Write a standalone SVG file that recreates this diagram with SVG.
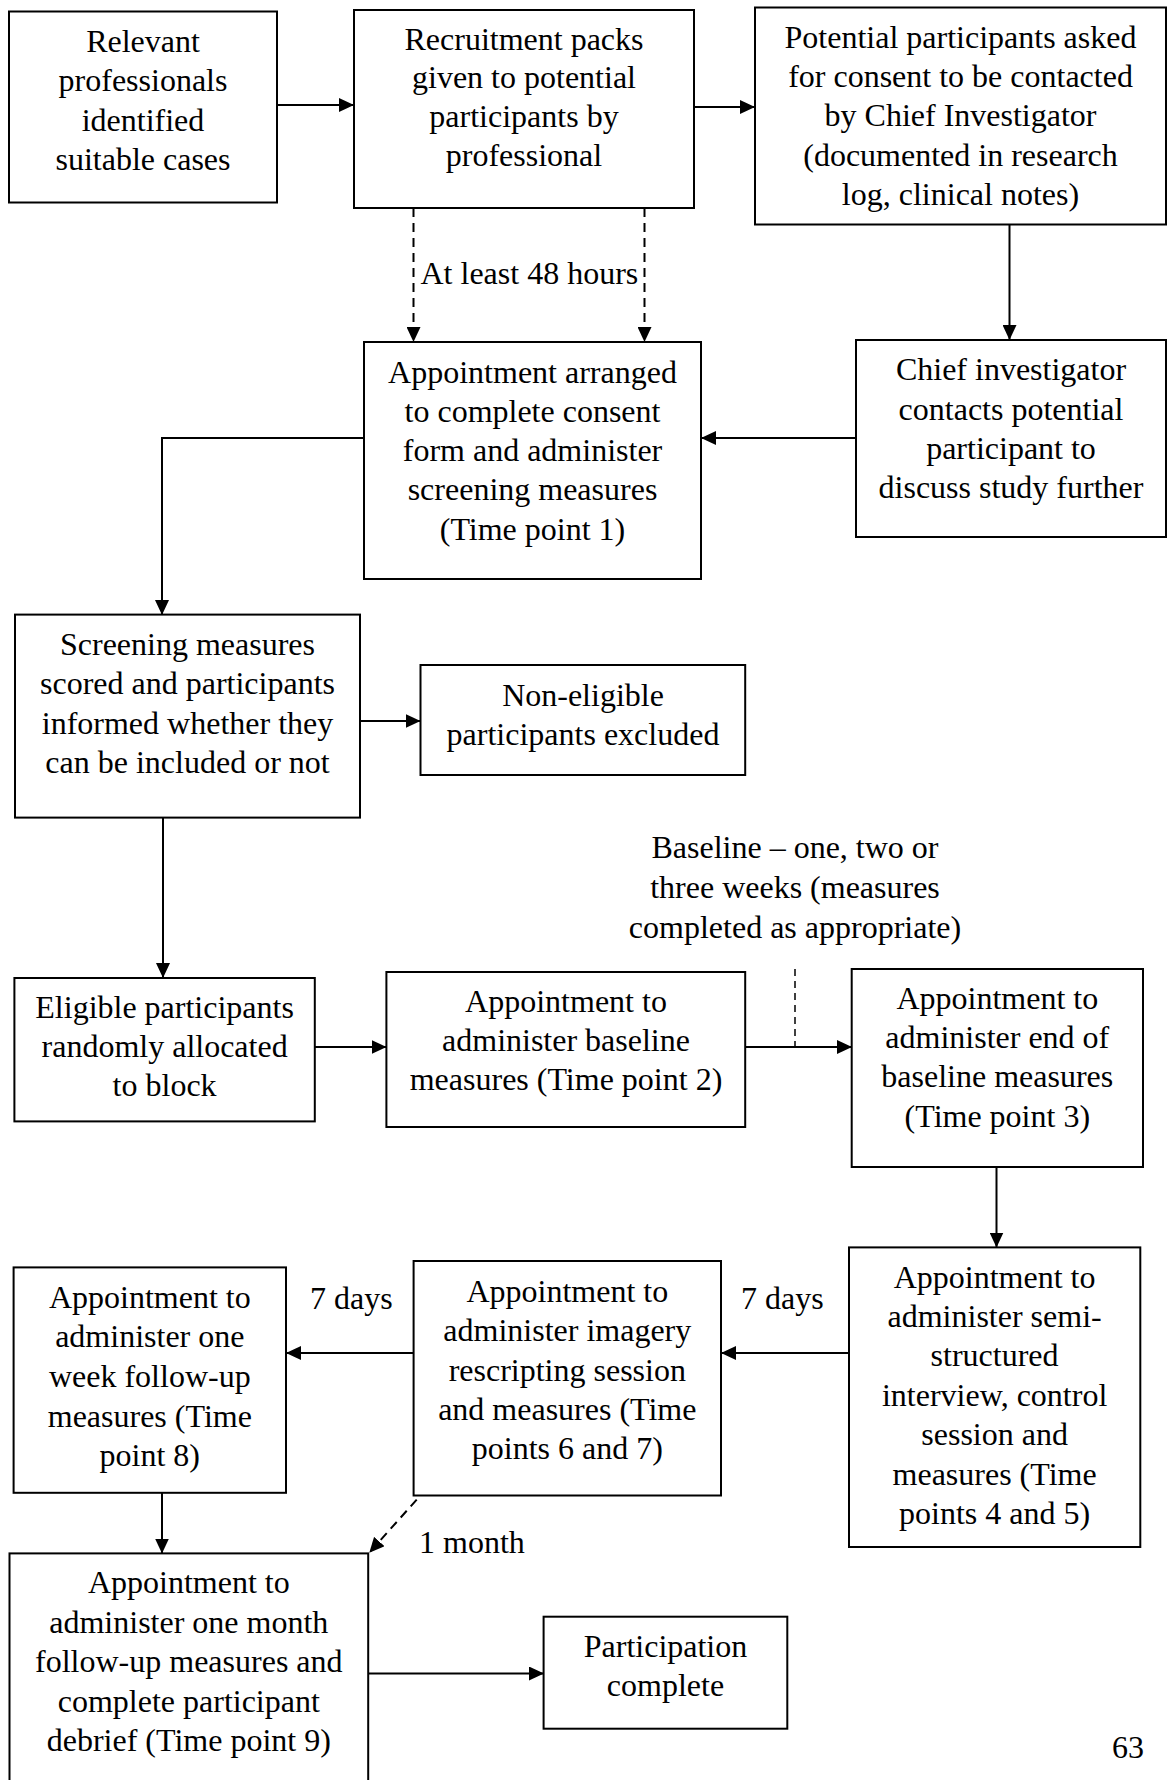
<svg xmlns="http://www.w3.org/2000/svg" width="1168" height="1780" viewBox="0 0 1168 1780">
<style>
.box{fill:#fff;stroke:#000;stroke-width:2}
.t{font-family:"Liberation Serif","Times New Roman",serif;font-size:32px;fill:#000}
.c{text-anchor:middle}
.ln{fill:none;stroke:#000;stroke-width:2}
.dash{stroke-dasharray:9 6}
.dash2{stroke-dasharray:7 5;stroke-width:1.5}
</style>
<defs>
<marker id="ah" viewBox="0 0 15 14" refX="15" refY="7" markerWidth="15" markerHeight="14" markerUnits="userSpaceOnUse" orient="auto">
<path d="M0,0 L15,7 L0,14 Z" fill="#000"/>
</marker>
</defs>
<rect width="1168" height="1780" fill="#fff"/>
<g id="connectors">
<path class="ln" d="M277,105 H354" marker-end="url(#ah)"/>
<path class="ln" d="M694,107 H755" marker-end="url(#ah)"/>
<path class="ln dash" d="M413.5,208 V342" marker-end="url(#ah)"/>
<path class="ln dash" d="M644.5,208 V342" marker-end="url(#ah)"/>
<path class="ln" d="M1009.5,225 V340" marker-end="url(#ah)"/>
<path class="ln" d="M856,438 H701" marker-end="url(#ah)"/>
<path class="ln" d="M364,438 H162 V615" marker-end="url(#ah)"/>
<path class="ln" d="M354,721 H420.5" marker-end="url(#ah)"/>
<path class="ln" d="M163,818 V978" marker-end="url(#ah)"/>
<path class="ln" d="M315,1047 H386.5" marker-end="url(#ah)"/>
<path class="ln" d="M745,1047 H852" marker-end="url(#ah)"/>
<path class="ln dash2" d="M795,969 V1047"/>
<path class="ln" d="M996.5,1167 V1247.5" marker-end="url(#ah)"/>
<path class="ln" d="M849,1353 H721" marker-end="url(#ah)"/>
<path class="ln" d="M413.5,1353 H286" marker-end="url(#ah)"/>
<path class="ln" d="M162,1493 V1553.5" marker-end="url(#ah)"/>
<path class="ln dash" d="M416.7,1499.6 L369.3,1552.7" marker-end="url(#ah)"/>
<path class="ln" d="M368,1673.5 H544" marker-end="url(#ah)"/>
</g>
<g id="n1"><rect class="box" x="9" y="11.5" width="268" height="191"/>
<text class="t c" x="143"><tspan x="143" y="52">Relevant</tspan><tspan x="143" y="91">professionals</tspan><tspan x="143" y="130.5">identified</tspan><tspan x="143" y="169.5">suitable cases</tspan></text></g>
<g id="n2"><rect class="box" x="354" y="10" width="340" height="198"/>
<text class="t c"><tspan x="524" y="49.5">Recruitment packs</tspan><tspan x="524" y="88">given to potential</tspan><tspan x="524" y="126.5">participants by</tspan><tspan x="524" y="165.5">professional</tspan></text></g>
<g id="n3"><rect class="box" x="755" y="7.5" width="411" height="217"/>
<text class="t c"><tspan x="960.5" y="48">Potential participants asked</tspan><tspan x="960.5" y="87">for consent to be contacted</tspan><tspan x="960.5" y="126">by Chief Investigator</tspan><tspan x="960.5" y="165.5">(documented in research</tspan><tspan x="960.5" y="204.5">log, clinical notes)</tspan></text></g>
<g id="n4"><rect class="box" x="364" y="342" width="337" height="237"/>
<text class="t c"><tspan x="532.5" y="382.5">Appointment arranged</tspan><tspan x="532.5" y="421.5">to complete consent</tspan><tspan x="532.5" y="461">form and administer</tspan><tspan x="532.5" y="500">screening measures</tspan><tspan x="532.5" y="540">(Time point 1)</tspan></text></g>
<g id="n5"><rect class="box" x="856" y="340" width="310" height="197"/>
<text class="t c"><tspan x="1011" y="380">Chief investigator</tspan><tspan x="1011" y="419.5">contacts potential</tspan><tspan x="1011" y="459">participant to</tspan><tspan x="1011" y="498">discuss study further</tspan></text></g>
<g id="l1"><text class="t" x="420.5" y="284">At least 48 hours</text></g>
<g id="n6"><rect class="box" x="15" y="614.6" width="345" height="203"/>
<text class="t c"><tspan x="187.5" y="654.5">Screening measures</tspan><tspan x="187.5" y="694">scored and participants</tspan><tspan x="187.5" y="733.5">informed whether they</tspan><tspan x="187.5" y="773">can be included or not</tspan></text></g>
<g id="n7"><rect class="box" x="420.5" y="665" width="324.7" height="110"/>
<text class="t c"><tspan x="583" y="706">Non-eligible</tspan><tspan x="583" y="744.5">participants excluded</tspan></text></g>
<g id="l2"><text class="t c"><tspan x="795" y="858">Baseline – one, two or</tspan><tspan x="795" y="898">three weeks (measures</tspan><tspan x="795" y="937.5">completed as appropriate)</tspan></text></g>
<g id="n8"><rect class="box" x="14.4" y="978" width="300.4" height="143.4"/>
<text class="t c"><tspan x="164.6" y="1018">Eligible participants</tspan><tspan x="164.6" y="1057">randomly allocated</tspan><tspan x="164.6" y="1096">to block</tspan></text></g>
<g id="n9"><rect class="box" x="386.4" y="972" width="358.8" height="155"/>
<text class="t c"><tspan x="566" y="1011.5">Appointment to</tspan><tspan x="566" y="1051">administer baseline</tspan><tspan x="566" y="1090">measures (Time point 2)</tspan></text></g>
<g id="n10"><rect class="box" x="851.7" y="969" width="291.3" height="198"/>
<text class="t c"><tspan x="997.3" y="1008.5">Appointment to</tspan><tspan x="997.3" y="1047.5">administer end of</tspan><tspan x="997.3" y="1087">baseline measures</tspan><tspan x="997.3" y="1127">(Time point 3)</tspan></text></g>
<g id="n11"><rect class="box" x="849" y="1247.4" width="291.3" height="299.6"/>
<text class="t c"><tspan x="994.6" y="1287.5">Appointment to</tspan><tspan x="994.6" y="1326.5">administer semi-</tspan><tspan x="994.6" y="1366">structured</tspan><tspan x="994.6" y="1405.5">interview, control</tspan><tspan x="994.6" y="1445">session and</tspan><tspan x="994.6" y="1484.5">measures (Time</tspan><tspan x="994.6" y="1524">points 4 and 5)</tspan></text></g>
<g id="n12"><rect class="box" x="413.6" y="1261" width="307.4" height="234.5"/>
<text class="t c"><tspan x="567.3" y="1301.5">Appointment to</tspan><tspan x="567.3" y="1341">administer imagery</tspan><tspan x="567.3" y="1380.5">rescripting session</tspan><tspan x="567.3" y="1419.5">and measures (Time</tspan><tspan x="567.3" y="1459">points 6 and 7)</tspan></text></g>
<g id="n13"><rect class="box" x="13.6" y="1267.4" width="272.4" height="225.4"/>
<text class="t c"><tspan x="149.8" y="1308">Appointment to</tspan><tspan x="149.8" y="1347">administer one</tspan><tspan x="149.8" y="1387">week follow-up</tspan><tspan x="149.8" y="1426.5">measures (Time</tspan><tspan x="149.8" y="1466">point 8)</tspan></text></g>
<g id="l3"><text class="t" x="310" y="1309">7 days</text></g>
<g id="l4"><text class="t" x="741" y="1309">7 days</text></g>
<g id="l5"><text class="t" x="419" y="1552.5">1 month</text></g>
<g id="n14"><rect class="box" x="9.5" y="1553.4" width="358.7" height="240"/>
<text class="t c"><tspan x="188.8" y="1593">Appointment to</tspan><tspan x="188.8" y="1632.5">administer one month</tspan><tspan x="188.8" y="1672">follow-up measures and</tspan><tspan x="188.8" y="1711.5">complete participant</tspan><tspan x="188.8" y="1750.5">debrief (Time point 9)</tspan></text></g>
<g id="n15"><rect class="box" x="543.6" y="1616.7" width="243.7" height="112"/>
<text class="t c"><tspan x="665.5" y="1656.5">Participation</tspan><tspan x="665.5" y="1695.5">complete</tspan></text></g>
<g id="page"><text class="t" x="1112" y="1758">63</text></g>
</svg>
